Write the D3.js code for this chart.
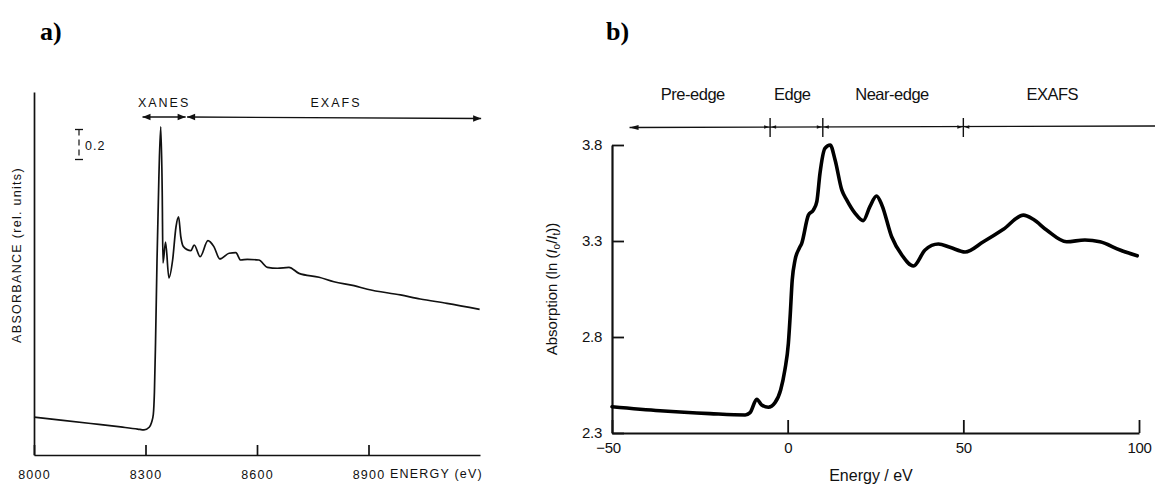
<!DOCTYPE html>
<html>
<head>
<meta charset="utf-8">
<script src="https://d3js.org/d3.v7.min.js"></script>
<style>
    body { margin: 0; background: #fff; }
    svg { display: block; }
</style>
</head>
<body>
<div class="diagram"></div>
<script>
// ---- panel a) : wide scan, energy in eV / absorbance (rel. units)
var energyA = [8000, 8072, 8153, 8233, 8279, 8296, 8310, 8316, 8321, 8324, 8327, 8331, 8336, 8341, 8345, 8347,
    8354, 8363, 8373, 8382, 8389, 8395, 8402, 8422, 8431, 8447, 8468, 8484, 8500, 8525, 8543, 8556,
    8574, 8605, 8628, 8655, 8686, 8713, 8767, 8807, 8861, 8897, 8986, 9039, 9111, 9199];
var absA = [0.253, 0.233, 0.210, 0.187, 0.173, 0.167, 0.185, 0.215, 0.27, 0.42, 0.75, 1.30, 1.85, 2.187, 1.75, 1.28,
    1.42, 1.18, 1.30, 1.52, 1.587, 1.455, 1.389, 1.362, 1.40, 1.322, 1.429, 1.389, 1.307, 1.345, 1.349, 1.30,
    1.304, 1.30, 1.251, 1.245, 1.251, 1.211, 1.185, 1.155, 1.129, 1.105, 1.067, 1.04, 1.011, 0.971];
var ticksA = [8000, 8300, 8600, 8900];
var regionsA = ["XANES", "EXAFS"];
var regionEndsA = [8292, 8408, 8412, 9203];   // XANES from..to, EXAFS from..to
var scaleBarA = 0.2;

// ---- panel b) : near edge, energy / eV vs ln(Io/It)
var energyB = [-50, -36.3, -22.1, -12.1, -10.7, -8.8, -7.4, -5.5, -3.6, -2.0, -0.8, 0.2, 0.7, 1.3, 2.1, 3.3, 4.0,
    5.9, 7.3, 8.3, 9.2, 10.6, 12.1, 13.5, 15.4, 16.8, 19.2, 21.5, 23.4, 25.3, 26.8, 29.6, 32.5, 35.8,
    39.1, 42.9, 46.2, 50.5, 55.7, 61.4, 67.1, 69.9, 73.7, 79.4, 84.6, 88.9, 94.6, 99.5];
var absB = [2.437, 2.416, 2.401, 2.394, 2.406, 2.476, 2.446, 2.434, 2.458, 2.524, 2.628, 2.767, 2.906, 3.097, 3.201, 3.262, 3.288,
    3.435, 3.461, 3.505, 3.653, 3.783, 3.80, 3.722, 3.566, 3.514, 3.444, 3.406, 3.479, 3.534, 3.488, 3.322, 3.227, 3.17,
    3.253, 3.284, 3.267, 3.243, 3.296, 3.361, 3.435, 3.413, 3.357, 3.296, 3.305, 3.296, 3.253, 3.223];
var ticksBx = [-50, 0, 50, 100];
var ticksBy = [2.3, 2.8, 3.3, 3.8];
var regionsB = ["Pre-edge", "Edge", "Near-edge", "EXAFS"];
var regionMidB = [-27, 1.3, 29.7, 75.3];
var regionMarksB = [-5, 10, 50];
var regionEndsB = [-45, 104.8];

var W = 1155, H = 484;
var svg = d3.select("div.diagram").append("svg")
    .attr("width", W).attr("height", H)
    .style("background", "#fff");

var ink = "#111";
var helv = "'Liberation Sans', Arial, Helvetica, sans-serif";

function arrowHead(g, x, y, dir, len, half) {
    // dir = -1 points left, 1 points right
    g.append("path")
        .attr("d", "M" + x + "," + y + "L" + (x - dir * len) + "," + (y - half) + "L" + (x - dir * len) + "," + (y + half) + "Z")
        .attr("fill", ink);
}

// panel labels
svg.append("text").attr("x", 40).attr("y", 40).text("a)")
    .attr("font-family", "'Liberation Serif', 'Times New Roman', serif")
    .attr("font-weight", "bold").attr("font-size", "26px").attr("fill", "#000");
svg.append("text").attr("x", 606).attr("y", 40).text("b)")
    .attr("font-family", "'Liberation Serif', 'Times New Roman', serif")
    .attr("font-weight", "bold").attr("font-size", "26px").attr("fill", "#000");

// ================= panel a =================
var xA = d3.scaleLinear().domain([8000, 9200]).range([34, 480]);
var yA = d3.scaleLinear().domain([0, 2.42]).range([455, 92]);

var gA = svg.append("g");

var xAxisA = d3.axisBottom(xA).tickValues(ticksA)
    .tickSizeInner(-10).tickSizeOuter(0).tickPadding(15)
    .tickFormat(function(d) { return d; });
var axA = gA.append("g").attr("transform", "translate(0," + 455 + ")").call(xAxisA);
axA.select(".domain").attr("stroke", ink).attr("stroke-width", 1.7);
axA.selectAll(".tick line").attr("stroke", ink).attr("stroke-width", 1.7);
axA.selectAll(".tick text")
    .attr("font-family", helv).attr("font-size", "12.5px")
    .attr("letter-spacing", "1.2px").attr("fill", ink);

var yAxisA = d3.axisLeft(yA).tickValues([]).tickSizeOuter(0);
var ayA = gA.append("g").attr("transform", "translate(34,0)").call(yAxisA);
ayA.select(".domain").attr("stroke", ink).attr("stroke-width", 1.7);

gA.append("text")
    .attr("x", 390).attr("y", 478)
    .text("ENERGY (eV)")
    .attr("font-family", helv).attr("font-size", "12.5px")
    .attr("letter-spacing", "1.2px").attr("fill", ink);

gA.append("text")
    .attr("transform", "translate(21,255) rotate(-90)")
    .attr("text-anchor", "middle")
    .text("ABSORBANCE (rel. units)")
    .attr("font-family", helv).attr("font-size", "12.5px")
    .attr("letter-spacing", "1.3px").attr("fill", ink);

// 0.2 scale bar
var sbTop = yA(1.97 + scaleBarA), sbBot = yA(1.97);
gA.append("line").attr("x1", 79).attr("x2", 79).attr("y1", sbTop).attr("y2", sbBot)
    .attr("stroke", ink).attr("stroke-width", 1.2).attr("stroke-dasharray", "6,4");
gA.append("line").attr("x1", 75).attr("x2", 83).attr("y1", sbTop).attr("y2", sbTop)
    .attr("stroke", ink).attr("stroke-width", 1.3);
gA.append("line").attr("x1", 75).attr("x2", 83).attr("y1", sbBot).attr("y2", sbBot)
    .attr("stroke", ink).attr("stroke-width", 1.3);
gA.append("text").attr("x", 85).attr("y", (sbTop + sbBot) / 2 + 5)
    .text("0.2").attr("font-family", helv).attr("font-size", "12.5px")
    .attr("letter-spacing", "1px").attr("fill", ink);

// region arrows
var arrY = 117;
gA.append("line").attr("x1", xA(regionEndsA[0])).attr("x2", xA(regionEndsA[1]))
    .attr("y1", arrY).attr("y2", arrY).attr("stroke", ink).attr("stroke-width", 1.4);
gA.append("line").attr("x1", xA(regionEndsA[2])).attr("x2", xA(regionEndsA[3]))
    .attr("y1", arrY).attr("y2", arrY + 1.5).attr("stroke", ink).attr("stroke-width", 1.4);
arrowHead(gA, xA(regionEndsA[0]), arrY, -1, 8, 3.2);
arrowHead(gA, xA(regionEndsA[1]), arrY, 1, 8, 3.2);
arrowHead(gA, xA(regionEndsA[2]), arrY, -1, 8, 3.2);
arrowHead(gA, xA(regionEndsA[3]), arrY + 1.5, 1, 8, 3.2);

gA.append("text").attr("x", (xA(regionEndsA[0]) + xA(regionEndsA[1])) / 2).attr("y", 107)
    .attr("text-anchor", "middle").text(regionsA[0])
    .attr("font-family", helv).attr("font-size", "12.5px").attr("letter-spacing", "2px").attr("fill", ink);
gA.append("text").attr("x", 336).attr("y", 107)
    .attr("text-anchor", "middle").text(regionsA[1])
    .attr("font-family", helv).attr("font-size", "12.5px").attr("letter-spacing", "2px").attr("fill", ink);

var lineA = d3.line()
    .x(function(d, i) { return xA(energyA[i]); })
    .y(function(d) { return yA(d); })
    .curve(d3.curveMonotoneX);
gA.append("path").datum(absA)
    .attr("d", lineA)
    .attr("fill", "none").attr("stroke", ink).attr("stroke-width", 1.7)
    .attr("stroke-linejoin", "round");

// ================= panel b =================
var xB = d3.scaleLinear().domain([-50, 100]).range([612, 1139]);
var yB = d3.scaleLinear().domain([2.3, 3.8]).range([433, 145]);

var gB = svg.append("g");

var xAxisB = d3.axisBottom(xB).tickValues(ticksBx)
    .tickSizeInner(-13).tickSizeOuter(0).tickPadding(9)
    .tickFormat(d3.format("d"));
var axB = gB.append("g").attr("transform", "translate(0,433)").call(xAxisB);
axB.select(".domain").attr("stroke", ink).attr("stroke-width", 2.2);
axB.selectAll(".tick line").attr("stroke", ink).attr("stroke-width", 1.8);
axB.selectAll(".tick text").attr("font-family", helv).attr("font-size", "15px")
    .attr("letter-spacing", "-0.3px").attr("fill", ink)
    .attr("dx", function(d) { return d < 0 ? "-4px" : "0"; });

var yAxisB = d3.axisLeft(yB).tickValues(ticksBy)
    .tickSizeInner(-12).tickSizeOuter(0).tickPadding(10)
    .tickFormat(d3.format(".1f"));
var ayB = gB.append("g").attr("transform", "translate(612,0)").call(yAxisB);
ayB.select(".domain").attr("stroke", ink).attr("stroke-width", 2.2);
ayB.selectAll(".tick line").attr("stroke", ink).attr("stroke-width", 1.8);
ayB.selectAll(".tick text").attr("font-family", helv).attr("font-size", "15px")
    .attr("letter-spacing", "-0.3px").attr("fill", ink);

gB.append("text").attr("x", 871).attr("y", 481)
    .attr("text-anchor", "middle").text("Energy / eV")
    .attr("font-family", helv).attr("font-size", "16px").attr("fill", ink);

var yl = gB.append("text")
    .attr("transform", "translate(557,289) rotate(-90)")
    .attr("text-anchor", "middle")
    .attr("font-family", helv).attr("font-size", "15px").attr("fill", ink);
yl.append("tspan").text("Absorption (ln (");
yl.append("tspan").attr("font-style", "italic").text("I");
yl.append("tspan").attr("font-size", "10px").attr("dy", "3").text("o");
yl.append("tspan").attr("dy", "-3").text("/");
yl.append("tspan").attr("font-style", "italic").text("I");
yl.append("tspan").attr("font-size", "10px").attr("dy", "3").text("t");
yl.append("tspan").attr("dy", "-3").text("))");

// region bar
var barY = 127.5;
gB.append("line").attr("x1", xB(regionEndsB[0])).attr("x2", xB(regionEndsB[1]))
    .attr("y1", barY).attr("y2", barY - 1.5).attr("stroke", ink).attr("stroke-width", 1.4);
arrowHead(gB, xB(regionEndsB[0]), barY, -1, 9, 2.5);
regionMarksB.forEach(function(e) {
    var x = xB(e);
    gB.append("line").attr("x1", x).attr("x2", x).attr("y1", 118).attr("y2", 137)
        .attr("stroke", ink).attr("stroke-width", 1.4);
    arrowHead(gB, x - 1, barY - 0.5, 1, 5, 1.8);
    arrowHead(gB, x + 1, barY - 0.5, -1, 5, 1.8);
});
regionsB.forEach(function(r, i) {
    gB.append("text").attr("x", xB(regionMidB[i])).attr("y", 100)
        .attr("text-anchor", "middle").text(r)
        .attr("font-family", helv).attr("font-size", "16.5px")
        .attr("letter-spacing", "-0.5px").attr("fill", ink);
});

var lineB = d3.line()
    .x(function(d, i) { return xB(energyB[i]); })
    .y(function(d) { return yB(d); })
    .curve(d3.curveMonotoneX);
gB.append("path").datum(absB)
    .attr("d", lineB)
    .attr("fill", "none").attr("stroke", "#000").attr("stroke-width", 3.6)
    .attr("stroke-linejoin", "round").attr("stroke-linecap", "round");
</script>
</body>
</html>
